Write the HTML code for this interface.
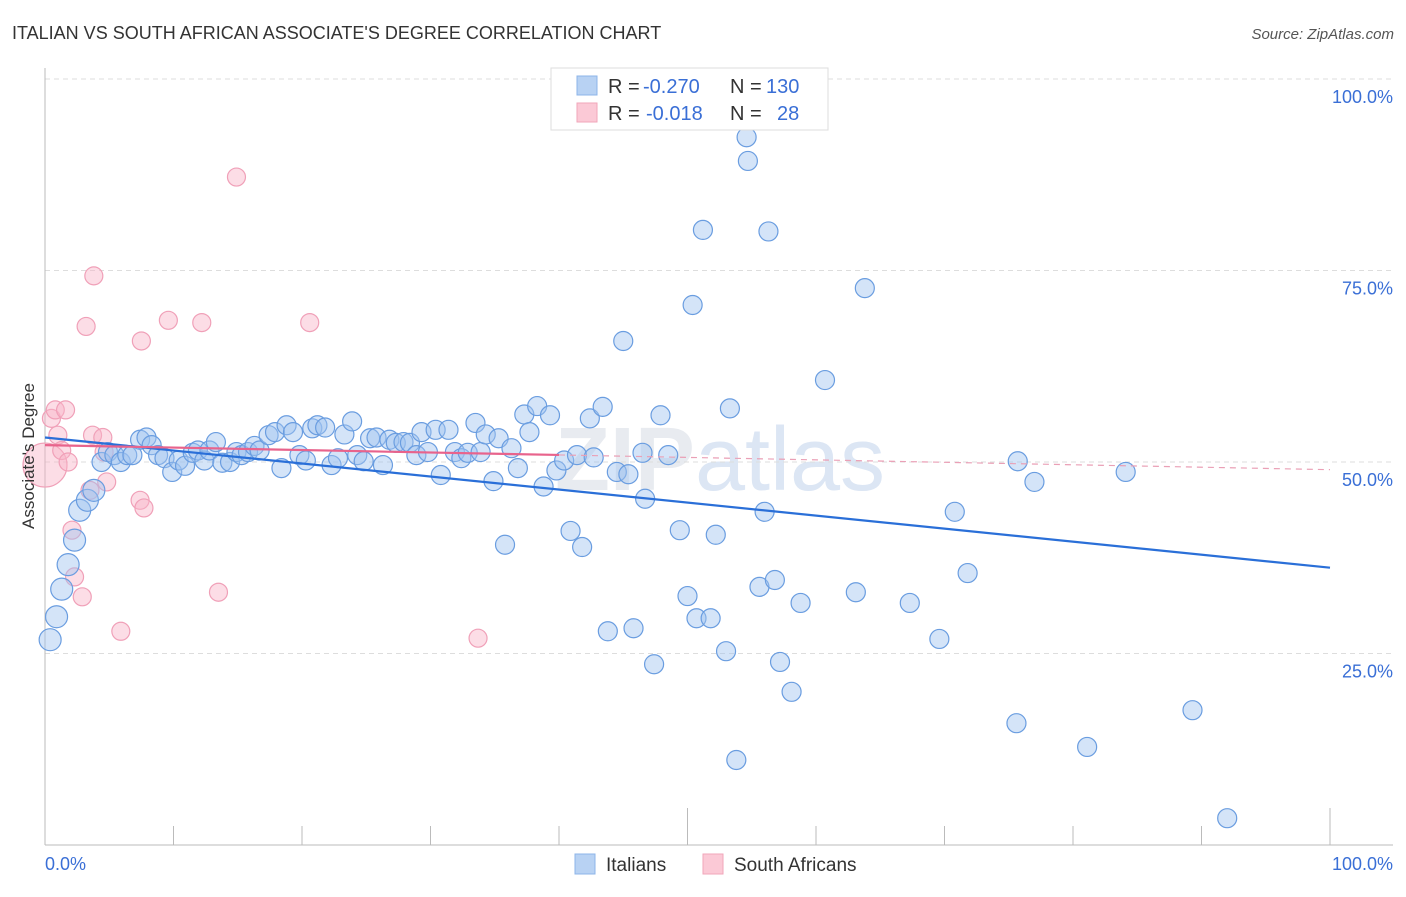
<!DOCTYPE html>
<html><head><meta charset="utf-8"><style>
body{margin:0;background:#fff;font-family:"Liberation Sans",sans-serif}
svg text{font-family:"Liberation Sans",sans-serif}
</style></head><body>
<svg id="chart" width="1406" height="892" xmlns="http://www.w3.org/2000/svg">
<text x="12" y="39" font-size="18" fill="#333">ITALIAN VS SOUTH AFRICAN ASSOCIATE'S DEGREE CORRELATION CHART</text>
<text x="1394" y="39" font-size="15" fill="#555" text-anchor="end" font-style="italic">Source: ZipAtlas.com</text>
<text x="720" y="490" font-size="90" fill="#e8ebf0" text-anchor="middle" font-weight="bold">ZIP<tspan fill="#dce6f4" font-weight="normal">atlas</tspan></text>
<g id="grid"></g><g id="axes"></g><g id="pts"></g><g id="trend"></g>
<text transform="translate(34,456) rotate(-90)" font-size="17" fill="#333" text-anchor="middle">Associate's Degree</text>
<g>
<rect x="551" y="68" width="277" height="62" fill="#fff" stroke="#ddd"/>
<rect x="577" y="76" width="20" height="19" fill="#b8d2f3" stroke="#8db4e8"/>
<rect x="577" y="103" width="20" height="19" fill="#fbc9d6" stroke="#f0a6ba"/>
<text x="608" y="93" font-size="20" fill="#333">R =</text>
<text x="643" y="93" font-size="20" fill="#3a6fd6">-0.270</text>
<text x="730" y="93" font-size="20" fill="#333">N =</text>
<text x="766" y="93" font-size="20" fill="#3a6fd6">130</text>
<text x="608" y="120" font-size="20" fill="#333">R =</text>
<text x="646" y="120" font-size="20" fill="#3a6fd6">-0.018</text>
<text x="730" y="120" font-size="20" fill="#333">N =</text>
<text x="777" y="120" font-size="20" fill="#3a6fd6">28</text>
</g>
<g>
<rect x="575" y="854" width="20" height="20" fill="#b8d2f3" stroke="#8db4e8"/>
<text x="606" y="871" font-size="19" fill="#333">Italians</text>
<rect x="703" y="854" width="20" height="20" fill="#fbc9d6" stroke="#f0a6ba"/>
<text x="734" y="871" font-size="19" fill="#333">South Africans</text>
</g>
</svg>
<script>
const yTicks=[25,50,75,100];
const yTickLabels=["25.0%","50.0%","75.0%","100.0%"];
const xTicks=[0,10,20,30,40,50,60,70,80,90,100];
const blueX=[0.4,0.9,1.3,1.8,2.3,2.7,3.3,3.8,4.4,4.9,5.4,5.9,6.4,6.8,7.4,7.9,8.3,8.8,9.3,9.9,10.4,10.9,11.5,11.9,12.4,12.8,13.3,13.8,14.4,14.9,15.3,15.8,16.3,16.7,17.4,17.9,18.4,18.8,19.3,19.8,20.3,20.8,21.2,21.8,22.3,22.8,23.3,23.9,24.3,24.8,25.3,25.8,26.3,26.8,27.3,27.9,28.4,28.9,29.3,29.8,30.4,30.8,31.4,31.9,32.4,32.9,33.5,33.9,34.3,34.9,35.3,35.8,36.3,36.8,37.3,37.7,38.3,38.8,39.3,39.8,40.4,40.9,41.4,41.8,42.4,42.7,43.4,43.8,44.5,45.0,45.4,45.8,46.5,46.7,47.4,47.9,48.5,49.4,50.0,50.4,50.7,51.2,51.8,52.2,53.0,53.3,53.8,54.6,54.7,55.6,56.0,56.3,56.8,57.2,58.1,58.8,60.7,63.1,63.8,67.3,69.6,70.8,71.8,75.6,75.7,77.0,81.1,84.1,89.3,92.0];
const blueY=[26.8,29.8,33.4,36.6,39.8,43.7,45.0,46.3,50.0,51.3,50.9,50.0,50.9,50.9,52.9,53.2,52.2,50.9,50.5,48.7,50.2,49.5,51.2,51.5,50.2,51.5,52.6,49.9,50.0,51.3,50.9,51.3,52.1,51.5,53.5,53.9,49.2,54.8,53.9,50.9,50.2,54.4,54.8,54.5,49.6,50.5,53.6,55.3,50.9,50.1,53.1,53.2,49.6,52.9,52.5,52.6,52.5,50.9,53.9,51.3,54.2,48.3,54.2,51.3,50.5,51.2,55.1,51.3,53.6,47.5,53.1,39.2,51.8,49.2,56.2,53.9,57.3,46.8,56.1,48.9,50.2,41.0,50.9,38.9,55.7,50.6,57.2,27.9,48.7,65.8,48.4,28.3,51.2,45.2,23.6,56.1,50.9,41.1,32.5,70.5,29.6,80.3,29.6,40.5,25.3,57.0,11.1,92.4,89.3,33.7,43.5,80.1,34.6,23.9,20.0,31.6,60.7,33.0,72.7,31.6,26.9,43.5,35.5,15.9,50.1,47.4,12.8,48.7,17.6,3.5];
const pinkX=[0.0,0.5,0.8,1.6,1.0,1.3,1.8,2.1,2.3,2.9,3.2,3.5,3.8,3.7,4.5,4.6,4.8,5.9,7.4,7.7,7.5,9.6,12.2,13.5,14.9,20.6,33.7];
const pinkY=[49.6,55.7,56.8,56.8,53.5,51.5,50.0,41.1,35.0,32.4,67.7,46.3,74.3,53.5,53.2,51.3,47.4,27.9,45.0,44.0,65.8,68.5,68.2,33.0,87.2,68.2,27.0];
const blueTrend=[53.2,36.2];
const pinkTrend=[52.2,49.0];
const X=v=>45+v*12.85, Y=v=>845-v*7.66;
const NS="http://www.w3.org/2000/svg";
function mk(tag,parent,attrs){const e=document.createElementNS(NS,tag);for(const k in attrs)e.setAttribute(k,attrs[k]);document.getElementById(parent).appendChild(e);return e;}
yTicks.forEach((t,i)=>{
 const l=mk('line','grid',{x1:45,x2:1393,y1:Y(t),y2:Y(t),stroke:'#ddd','stroke-dasharray':'5,4'});
 
 
 const tx=mk('text','grid',{x:1393,y:Y(t)+24,'font-size':18,fill:'#3a6fd6','text-anchor':'end'});
 tx.textContent=yTickLabels[i];
 
 
});
const ya=mk('line','axes',{x1:45,x2:45,y1:68,y2:845,stroke:'#bbb'});


const xa=mk('line','axes',{x1:45,x2:1393,y1:845,y2:845,stroke:'#bbb'});


xTicks.forEach(t=>{
 const major=(t%50===0);
 const l=mk('line','axes',{x1:X(t),x2:X(t),y1:major?808:826,y2:845,stroke:'#bbb'});
 
 
});
const x0=mk('text','axes',{x:45,y:870,'font-size':18,fill:'#3a6fd6'});x0.textContent='0.0%';


const x1=mk('text','axes',{x:1393,y:870,'font-size':18,fill:'#3a6fd6','text-anchor':'end'});x1.textContent='100.0%';


pinkX.forEach((v,i)=>{
 const c=mk('circle','pts',{cx:X(v),cy:Y(pinkY[i]),r:i===0?22:9,fill:'rgba(248,180,200,0.45)',stroke:'#f0a0b8','stroke-width':1.2});
 
 
});
blueX.forEach((v,i)=>{
 const c=mk('circle','pts',{cx:X(v),cy:Y(blueY[i]),r:v<4?11:9.5,fill:'rgba(160,195,240,0.45)',stroke:'#6a9de0','stroke-width':1.2});
 
 
});
const bt=mk('line','trend',{x1:X(0),y1:Y(blueTrend[0]),x2:X(100),y2:Y(blueTrend[1]),stroke:'#2a6fd8','stroke-width':2.2});


const pm=pinkTrend[0]+(pinkTrend[1]-pinkTrend[0])*0.4;
const pt=mk('line','trend',{x1:X(0),y1:Y(pinkTrend[0]),x2:X(40),y2:Y(pm),stroke:'#e8638c','stroke-width':2.2});


const pd=mk('line','trend',{x1:X(40),y1:Y(pm),x2:X(100),y2:Y(pinkTrend[1]),stroke:'#eaa0b6','stroke-width':1.2,'stroke-dasharray':'6,5'});


</script>
</body></html>
